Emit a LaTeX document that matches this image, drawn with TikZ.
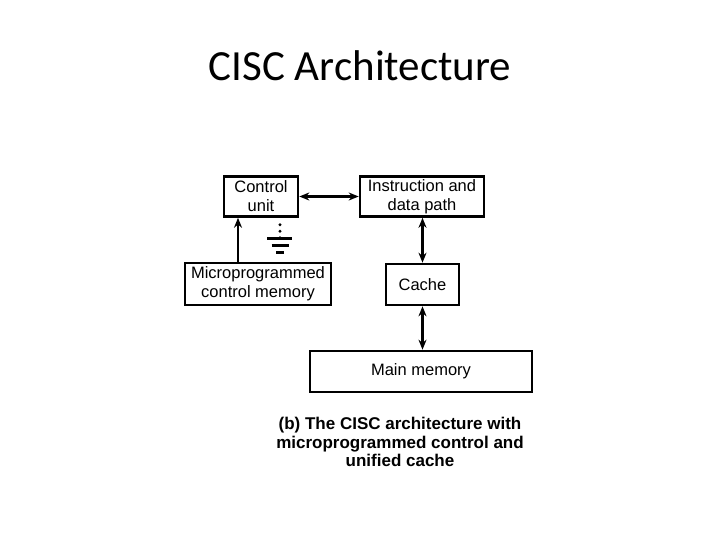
\documentclass[tikz,border=0pt]{standalone}
\usepackage{fontspec}
\setmainfont{Liberation Sans}
\newfontfamily\titlefont{Carlito}
\usetikzlibrary{arrows.meta,calc}
\begin{document}
\begin{tikzpicture}[x=1pt,y=-1pt,
  blk/.style={draw=black,line width=2.6pt,inner sep=0pt,align=center,
    font=\fontsize{16.5}{19}\selectfont},
  conn/.style={line width=2.2pt,{Stealth[length=10pt,width=8pt]}-{Stealth[length=10pt,width=8pt]}},
  uconn/.style={line width=2.2pt,-{Stealth[length=10pt,width=8pt]}},
  gnd/.style={line width=2.4pt}]
\useasboundingbox (0,0) rectangle (720,540);
\node[anchor=base,font=\titlefont\fontsize{43}{50}\selectfont] (title) at (360,81) {CISC Architecture};
\node[blk,minimum width=74pt,minimum height=40pt] (cu) at (261,196.5) {Control\\unit};
\node[blk,minimum width=124pt,minimum height=40pt] (idp) at (422,196.5) {Instruction and\\data path};
\node[blk,minimum width=146pt,minimum height=42pt] (mcm) at (258,284) {Microprogrammed\\control memory};
\node[blk,minimum width=73pt,minimum height=41pt] (cache) at (422.5,284.5) {Cache};
\node[blk,minimum width=222pt,minimum height=41pt] (mm) at (421,371.5) {Main memory};
\node[align=center,font=\bfseries\fontsize{17}{18.5}\selectfont] (cap) at (400,442)
  {(b) The CISC architecture with\\microprogrammed control and\\unified cache};
\draw[conn] (cu.east) -- (idp.west);
\draw[conn] (idp.south -| cache.north) -- (cache.north);
\draw[conn] (cache.south) -- (cache.south |- mm.north);
\draw[uconn] ([xshift=-20pt]mcm.north) -- ([xshift=-20pt]mcm.north |- cu.south);
\coordinate (g0) at ([xshift=19pt]cu.south);
\foreach \d in {7,13.5,20} \fill ([yshift=-\d pt]g0) circle (1.6pt);
\draw[gnd] ([xshift=-13pt,yshift=-20.5pt]g0) -- ([xshift=12pt,yshift=-20.5pt]g0);
\draw[gnd] ([xshift=-8.5pt,yshift=-27.5pt]g0) -- ([xshift=8.5pt,yshift=-27.5pt]g0);
\draw[gnd] ([xshift=-4pt,yshift=-34.5pt]g0) -- ([xshift=4pt,yshift=-34.5pt]g0);
\end{tikzpicture}
\end{document}
